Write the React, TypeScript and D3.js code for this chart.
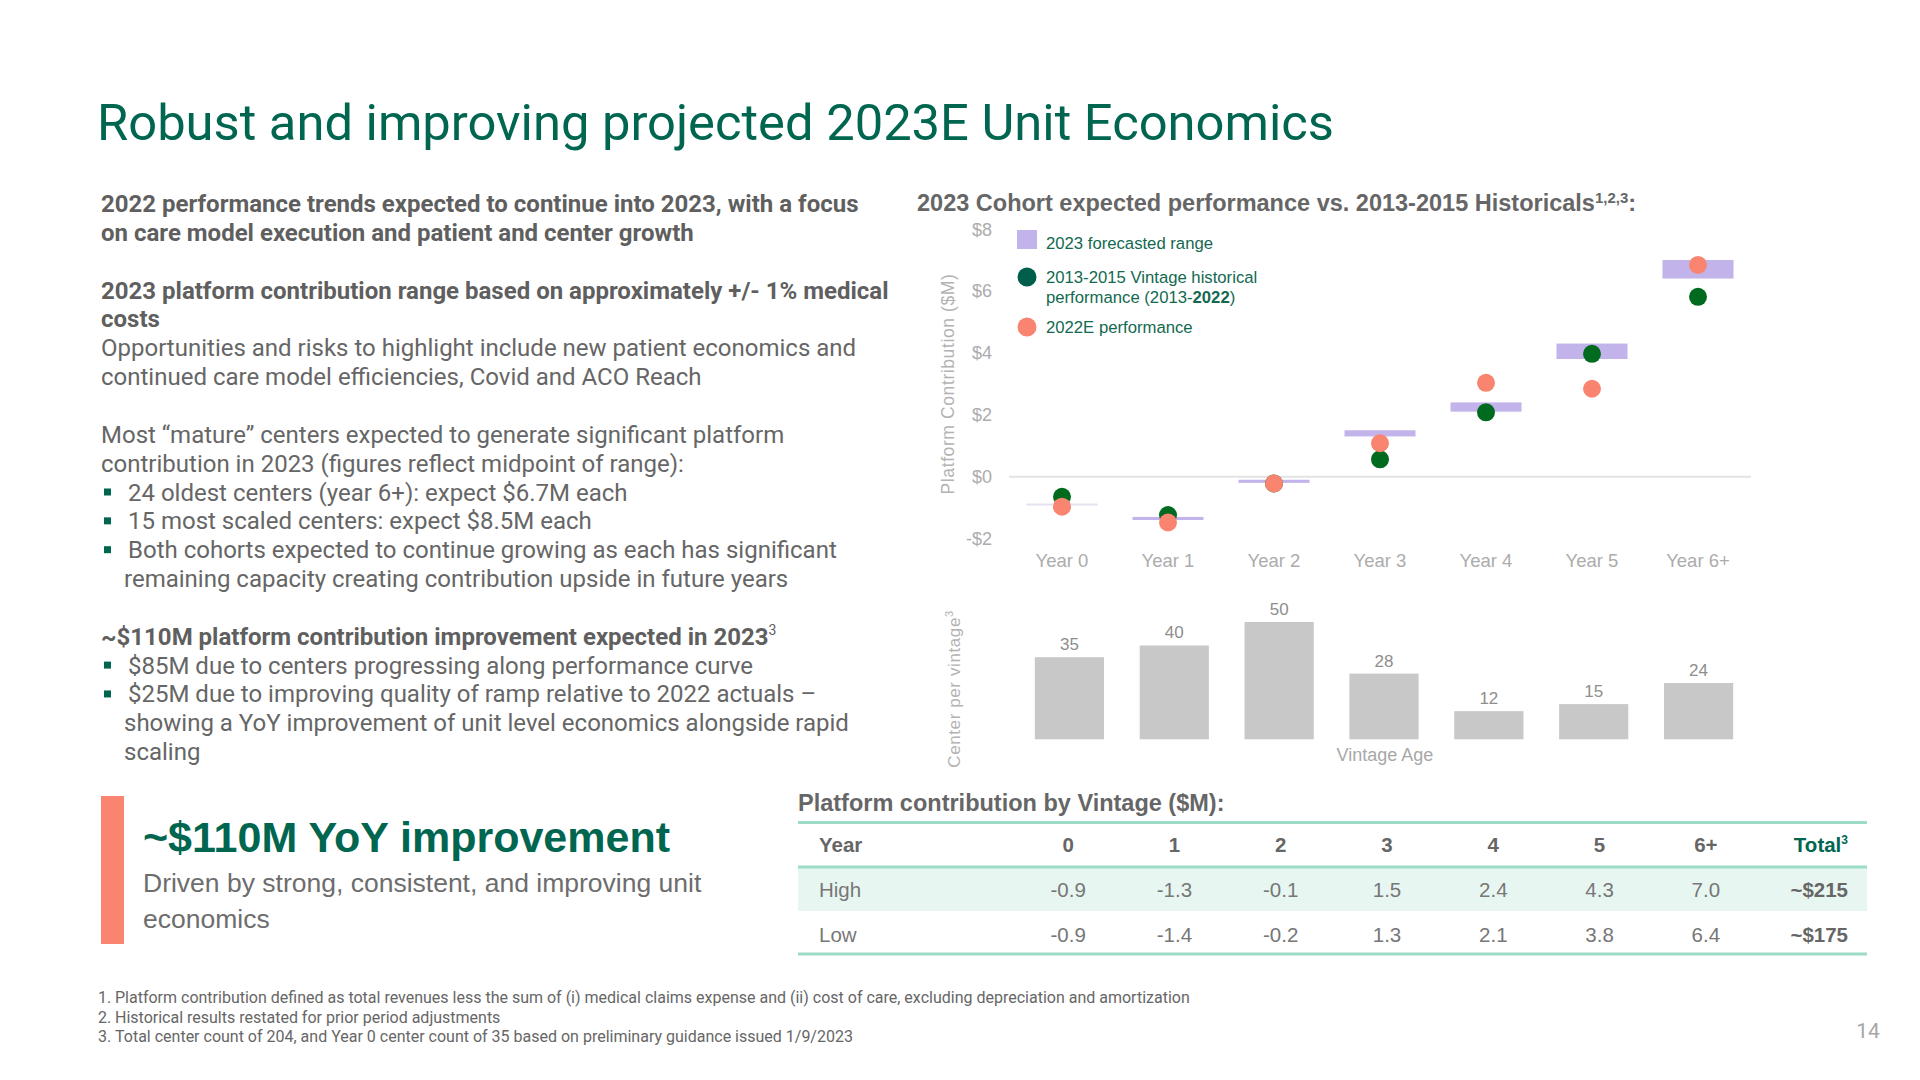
import React from "react";
import * as d3 from "d3";

// ---------- data ----------
const years = ["Year 0", "Year 1", "Year 2", "Year 3", "Year 4", "Year 5", "Year 6+"];
const rangeHigh = [-0.9, -1.3, -0.1, 1.5, 2.4, 4.3, 7.0];
const rangeLow = [-0.9, -1.4, -0.2, 1.3, 2.1, 3.8, 6.4];
const historical = [-0.65, -1.24, -0.22, 0.56, 2.08, 3.97, 5.81];
const perf2022E = [-0.97, -1.48, -0.22, 1.08, 3.03, 2.84, 6.84];
const centersPerVintage = [35, 40, 50, 28, 12, 15, 24];
const yTicks = [-2, 0, 2, 4, 6, 8];
const tableCols = ["0", "1", "2", "3", "4", "5", "6+"];
const tableRows = ["High", "Low"];
const tableTotals = ["~$215", "~$175"];

type Line = { text: string; bold?: boolean; bullet?: boolean; indent?: boolean; sup?: string } | null;
const bodyLines: Line[] = [
  { text: "2022 performance trends expected to continue into 2023, with a focus", bold: true },
  { text: "on care model execution and patient and center growth", bold: true },
  null,
  { text: "2023 platform contribution range based on approximately +/- 1% medical", bold: true },
  { text: "costs", bold: true },
  { text: "Opportunities and risks to highlight include new patient economics and" },
  { text: "continued care model efficiencies, Covid and ACO Reach" },
  null,
  { text: "Most \u201Cmature\u201D centers expected to generate significant platform" },
  { text: "contribution in 2023 (figures reflect midpoint of range):" },
  { text: "24 oldest centers (year 6+): expect $6.7M each", bullet: true },
  { text: "15 most scaled centers: expect $8.5M each", bullet: true },
  { text: "Both cohorts expected to continue growing as each has significant", bullet: true },
  { text: "remaining capacity creating contribution upside in future years", indent: true },
  null,
  { text: "~$110M platform contribution improvement expected in 2023", bold: true, sup: "3" },
  { text: "$85M due to centers progressing along performance curve", bullet: true },
  { text: "$25M due to improving quality of ramp relative to 2022 actuals \u2013", bullet: true },
  { text: "showing a YoY improvement of unit level economics alongside rapid", indent: true },
  { text: "scaling", indent: true },
];
const footnotes = [
  "Platform contribution defined as total revenues less the sum of (i) medical claims expense and (ii) cost of care, excluding depreciation and amortization",
  "Historical results restated for prior period adjustments",
  "Total center count of 204, and Year 0 center count of 35 based on preliminary guidance issued 1/9/2023",
];

// ---------- styles ----------
const GREEN = "#00664F";
const DOT_GREEN = "#006a1f";
const SALMON = "#F9846F";
const LAVENDER = "#C2B4EA";
const MINT = "#9ddcc4";
const ROBOTO = "Roboto, sans-serif";
const ARIAL = "'Liberation Sans', Arial, sans-serif";

export default function App() {
  // scatter chart scales
  const x = d3.scaleBand<string>().domain(years).range([1009, 1751]).padding(0);
  const y = d3.scaleLinear().domain([-2, 8]).range([538.6, 229]);
  const bw = x.bandwidth();
  const rangeW = bw * 0.67;

  // bar chart scales
  const xb = d3.scaleBand<string>().domain(years).range([1017, 1751]).paddingInner(0.34).paddingOuter(0.17);
  const yb = d3.scaleLinear().domain([0, 50]).range([739.3, 622]);

  // table column scale
  const xt = d3.scaleBand<string>().domain(tableCols).range([1015, 1759]).padding(0);

  const lineH = 28.85;
  const bodyStart = 212;

  return (
    <svg width={1920} height={1080} style={{ position: "absolute", left: 0, top: 0, background: "#fff" }}>
      {/* title */}
      <text x={97} y={140} fontFamily={ROBOTO} fontSize={50.7} fill={GREEN}>
        Robust and improving projected 2023E Unit Economics
      </text>

      {/* left body text */}
      {bodyLines.map((l, i) => {
        if (!l) return null;
        const yy = bodyStart + i * lineH;
        const tx = l.bullet ? 128 : l.indent ? 124 : 101;
        return (
          <g key={i}>
            {l.bullet && <rect x={104} y={yy - 12} width={7} height={7} fill={GREEN} />}
            <text
              x={tx}
              y={yy}
              fontFamily={ROBOTO}
              fontSize={24}
              fontWeight={l.bold ? 700 : 400}
              fill={l.bold ? "#5f5f5f" : "#666"}
            >
              {l.text}
              {l.sup && (
                <tspan fontSize={14} fontWeight={400} dy={-10}>
                  {l.sup}
                </tspan>
              )}
            </text>
          </g>
        );
      })}

      {/* callout */}
      <rect x={101} y={796} width={23} height={148} fill={SALMON} />
      <text x={143} y={851.5} fontFamily={ARIAL} fontSize={43} fontWeight={700} fill={GREEN}>
        ~$110M YoY improvement
      </text>
      <text x={143} y={891.5} fontFamily={ARIAL} fontSize={26.5} fill="#6d6d6d">
        Driven by strong, consistent, and improving unit
      </text>
      <text x={143} y={928} fontFamily={ARIAL} fontSize={26.5} fill="#6d6d6d">
        economics
      </text>

      {/* chart heading */}
      <text x={917} y={211} fontFamily={ARIAL} fontSize={23.5} fontWeight={700} fill="#666">
        2023 Cohort expected performance vs. 2013-2015 Historicals
        <tspan fontSize={15} dy={-8}>1,2,3</tspan>
        <tspan dy={8}>:</tspan>
      </text>

      {/* y axis */}
      {yTicks.map((t) => (
        <text key={t} x={992} y={y(t) + 6.5} textAnchor="end" fontFamily={ARIAL} fontSize={18} fill="#acacac">
          {t < 0 ? `-$${Math.abs(t)}` : `$${t}`}
        </text>
      ))}
      <line x1={1009} x2={1751} y1={y(0)} y2={y(0)} stroke="#e3e3e3" strokeWidth={2} />
      <text
        transform={`translate(954,384) rotate(-90)`}
        textAnchor="middle"
        fontFamily={ARIAL}
        fontSize={17.5}
        letterSpacing={0.6}
        fill="#b3b3b3"
      >
        Platform Contribution ($M)
      </text>

      {/* range bars */}
      {years.map((yr, i) => {
        const top = y(rangeHigh[i]);
        const h = Math.max(2, y(rangeLow[i]) - top);
        return (
          <rect
            key={yr}
            x={x(yr)! + (bw - rangeW) / 2}
            y={h === 2 ? top - 1 : top}
            width={rangeW}
            height={h}
            fill={rangeHigh[i] === rangeLow[i] ? "#e4e0ee" : LAVENDER}
          />
        );
      })}
      {/* historical dots */}
      {years.map((yr, i) => (
        <circle key={yr} cx={x(yr)! + bw / 2} cy={y(historical[i])} r={9} fill={DOT_GREEN} />
      ))}
      {/* 2022E dots */}
      {years.map((yr, i) => (
        <circle key={yr} cx={x(yr)! + bw / 2} cy={y(perf2022E[i])} r={9} fill={SALMON} />
      ))}
      {/* category labels */}
      {years.map((yr) => (
        <text key={yr} x={x(yr)! + bw / 2} y={566.5} textAnchor="middle" fontFamily={ARIAL} fontSize={18.5} fill="#acacac">
          {yr}
        </text>
      ))}

      {/* legend */}
      <rect x={1017} y={230} width={20} height={19} fill={LAVENDER} />
      <text x={1046} y={248.5} fontFamily={ARIAL} fontSize={16.7} fill="#13694f">
        2023 forecasted range
      </text>
      <circle cx={1027} cy={277} r={9.5} fill="#005e4a" />
      <text x={1046} y={282.5} fontFamily={ARIAL} fontSize={16.7} fill="#13694f">
        2013-2015 Vintage historical
      </text>
      <text x={1046} y={302.5} fontFamily={ARIAL} fontSize={16.7} fill="#13694f">
        performance (2013-<tspan fontWeight={700}>2022</tspan>)
      </text>
      <circle cx={1027} cy={327} r={9.5} fill={SALMON} />
      <text x={1046} y={333} fontFamily={ARIAL} fontSize={16.7} fill="#13694f">
        2022E performance
      </text>

      {/* bar chart */}
      {years.map((yr, i) => (
        <g key={yr}>
          <rect
            x={xb(yr)!}
            y={yb(centersPerVintage[i])}
            width={xb.bandwidth()}
            height={yb(0) - yb(centersPerVintage[i])}
            fill="#c8c8c8"
          />
          <text
            x={xb(yr)! + xb.bandwidth() / 2}
            y={yb(centersPerVintage[i]) - 7}
            textAnchor="middle"
            fontFamily={ARIAL}
            fontSize={17}
            fill="#8e8e8e"
          >
            {centersPerVintage[i]}
          </text>
        </g>
      ))}
      <text x={1385} y={761} textAnchor="middle" fontFamily={ARIAL} fontSize={18} fill="#a8a8a8">
        Vintage Age
      </text>
      <text
        transform={`translate(960,689) rotate(-90)`}
        textAnchor="middle"
        fontFamily={ARIAL}
        fontSize={17}
        letterSpacing={0.6}
        fill="#b3b3b3"
      >
        Center per vintage<tspan fontSize={11} dy={-7}>3</tspan>
      </text>

      {/* table */}
      <text x={798} y={811} fontFamily={ARIAL} fontSize={23.5} fontWeight={700} fill="#666">
        Platform contribution by Vintage ($M):
      </text>
      <rect x={798} y={868} width={1069} height={43} fill="#e8f6f1" />
      <rect x={798} y={821} width={1069} height={3} fill={MINT} />
      <rect x={798} y={865.5} width={1069} height={3} fill={MINT} />
      <rect x={798} y={952.5} width={1069} height={3} fill={MINT} />
      <text x={819} y={852} fontFamily={ARIAL} fontSize={20.5} fontWeight={700} fill="#666">
        Year
      </text>
      {tableCols.map((c) => (
        <text key={c} x={xt(c)! + xt.bandwidth() / 2} y={852} textAnchor="middle" fontFamily={ARIAL} fontSize={20.5} fontWeight={700} fill="#666">
          {c}
        </text>
      ))}
      <text x={1848} y={852} textAnchor="end" fontFamily={ARIAL} fontSize={20.5} fontWeight={700} fill={GREEN}>
        Total<tspan fontSize={12} dy={-8}>3</tspan>
      </text>
      {tableRows.map((r, ri) => {
        const vals = ri === 0 ? rangeHigh : rangeLow;
        const by = 897 + ri * 45;
        return (
          <g key={r}>
            <text x={819} y={by} fontFamily={ARIAL} fontSize={20.5} fill="#777">
              {r}
            </text>
            {tableCols.map((c, ci) => (
              <text key={c} x={xt(c)! + xt.bandwidth() / 2} y={by} textAnchor="middle" fontFamily={ARIAL} fontSize={20.5} fill="#777">
                {vals[ci].toFixed(1)}
              </text>
            ))}
            <text x={1848} y={by} textAnchor="end" fontFamily={ARIAL} fontSize={20.5} fontWeight={700} fill="#666">
              {tableTotals[ri]}
            </text>
          </g>
        );
      })}

      {/* footnotes */}
      {footnotes.map((f, i) => (
        <g key={i}>
          <text x={98} y={1003 + i * 19.5} fontFamily={ROBOTO} fontSize={16} fill="#666">
            {`${i + 1}.`}
          </text>
          <text x={115} y={1003 + i * 19.5} fontFamily={ROBOTO} fontSize={16} fill="#666">
            {f}
          </text>
        </g>
      ))}
      <text x={1868} y={1038} textAnchor="middle" fontFamily={ROBOTO} fontSize={21} fill="#a6a6a6">
        14
      </text>
    </svg>
  );
}
